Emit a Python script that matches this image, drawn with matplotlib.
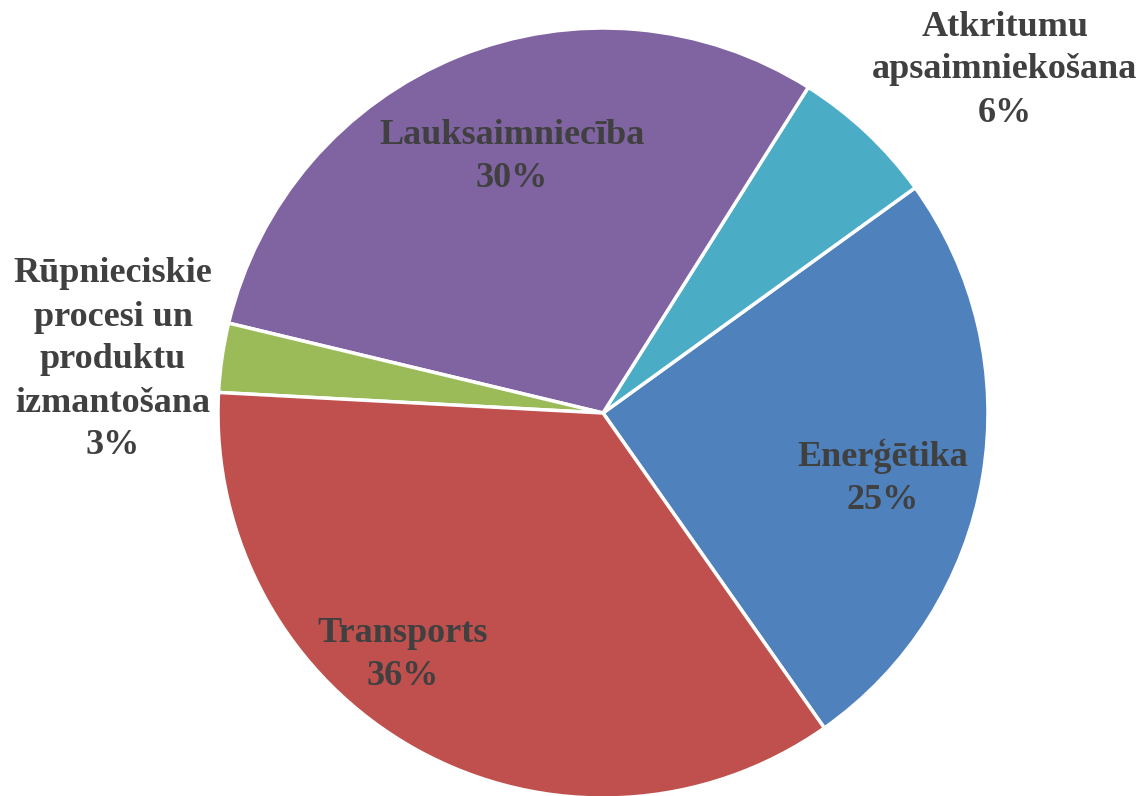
import matplotlib
matplotlib.use("Agg")
import matplotlib.pyplot as plt

categories = ["Enerģētika", "Atkritumu\napsaimniekošana", "Lauksaimniecība",
              "Rūpnieciskie\nprocesi un\nproduktu\nizmantošana", "Transports"]
values = [25.2, 6.1, 30.2, 2.9, 35.6]
pct_labels = ["25%", "6%", "30%", "3%", "36%"]
colors = ["#4F81BD", "#4BACC6", "#8064A2", "#9BBB59", "#C0504D"]

W, H = 1143, 796
fig = plt.figure(figsize=(W / 100, H / 100), dpi=100)
ax = fig.add_axes([0, 0, 1, 1])

cx, cy, r = 603, H - 413, 385
ax.pie(values, colors=colors, startangle=-54.9, counterclock=True,
       center=(cx, cy), radius=r, frame=True,
       wedgeprops=dict(edgecolor="white", linewidth=2.5))
ax.set_xlim(0, W)
ax.set_ylim(0, H)
ax.set_aspect("equal")
ax.axis("off")

# label positions (pixel coords of text block centres)
label_pos = [(883, 478), (1005, 70), (512, 157), (113, 360), (403, 655)]
for cat, pct, (x, y) in zip(categories, pct_labels, label_pos):
    ax.text(x, H - y, cat + "\n" + pct, ha="center", va="center",
            fontsize=26, fontweight="bold", family=["Liberation Serif", "DejaVu Serif"],
            color="#404040", linespacing=1.4)

fig.savefig("out.png", dpi=100)
